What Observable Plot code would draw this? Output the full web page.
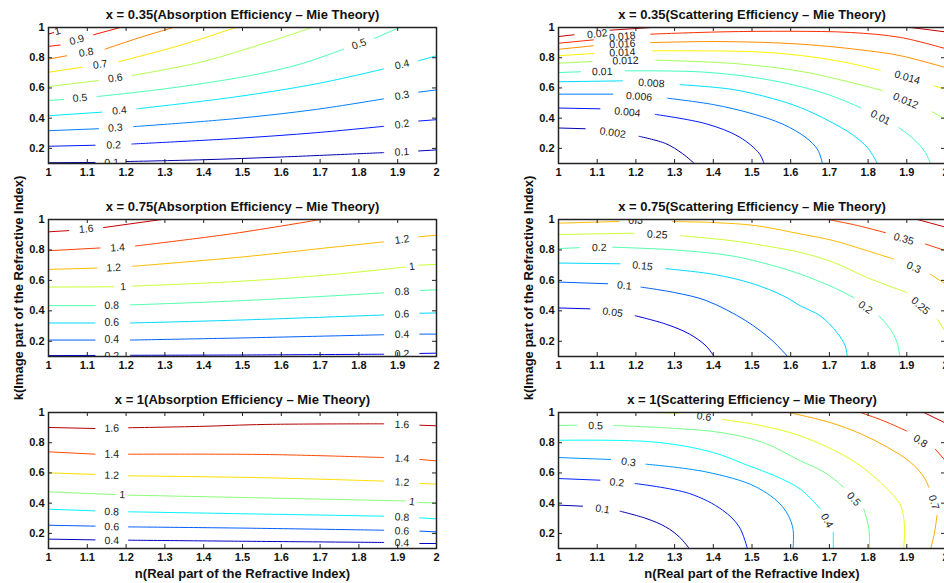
<!DOCTYPE html>
<html><head><meta charset="utf-8">
<script src="https://cdn.jsdelivr.net/npm/d3@7"></script>
<script src="https://cdn.jsdelivr.net/npm/@observablehq/plot@0.6"></script>
<style>
html,body{margin:0;padding:0;background:#fff;}
#fig{position:relative;width:944px;height:583px;overflow:hidden;background:#fff;}
#fig > div{position:absolute;}
</style></head><body><div id="fig"></div>
<script>
// ---- Data: contour segments [level, [[n,k],...]] and inline labels [level, n, k] ----
const xTicks = [1, 1.1, 1.2, 1.3, 1.4, 1.5, 1.6, 1.7, 1.8, 1.9, 2];
const yTicks = [0.2, 0.4, 0.6, 0.8, 1];

const absorption035 = [
 [0.1, [[1,0.105],[1.12,0.107]]],
 [0.1, [[1.2,0.113],[1.4,0.125],[1.6,0.143],[1.864,0.172]]],
 [0.1, [[1.954,0.183],[2,0.19]]],
 [0.2, [[1,0.214],[1.12,0.221]]],
 [0.2, [[1.215,0.229],[1.477,0.265],[1.69,0.304],[1.864,0.346]]],
 [0.2, [[1.954,0.381],[2,0.39]]],
 [0.3, [[1,0.317],[1.129,0.33]]],
 [0.3, [[1.219,0.344],[1.477,0.396],[1.69,0.458],[1.864,0.528]]],
 [0.3, [[1.954,0.572],[2,0.587]]],
 [0.4, [[1,0.416],[1.138,0.44]]],
 [0.4, [[1.228,0.462],[1.477,0.539],[1.69,0.627],[1.864,0.726]]],
 [0.4, [[1.954,0.78],[2,0.813]]],
 [0.5, [[1,0.517],[1.039,0.524]]],
 [0.5, [[1.125,0.543],[1.305,0.596],[1.52,0.682],[1.65,0.759],[1.761,0.857]]],
 [0.5, [[1.84,0.928],[1.905,1]]],
 [0.6, [[1,0.609],[1.129,0.649]]],
 [0.6, [[1.215,0.682],[1.391,0.77],[1.563,0.901],[1.679,1]]],
 [0.7, [[1,0.704],[1.086,0.737]]],
 [0.7, [[1.181,0.774],[1.305,0.857],[1.391,0.923],[1.482,1]]],
 [0.8, [[1,0.791],[1.047,0.813]]],
 [0.8, [[1.146,0.857],[1.236,0.934],[1.322,1]]],
 [0.9, [[1,0.875],[1.03,0.884]]],
 [0.9, [[1.116,0.952],[1.185,1]]],
 [1, [[1,0.957],[1.013,0.966]]]
];
const absorption035Labels = [
 [0.1,1.163,0.106],[0.1,1.911,0.176],[0.2,1.168,0.222],[0.2,1.911,0.36],
 [0.3,1.172,0.336],[0.3,1.911,0.55],[0.4,1.183,0.45],[0.4,1.911,0.755],
 [0.5,1.081,0.534],[0.5,1.8,0.89],[0.6,1.172,0.665],[0.7,1.133,0.755],
 [0.8,1.097,0.835],[0.9,1.073,0.918],[1,1.023,0.975]
];

const scattering035 = [
 [0.002, [[1,0.335],[1.069,0.33]]],
 [0.002, [[1.208,0.28],[1.277,0.232],[1.32,0.166],[1.351,0.1]]],
 [0.004, [[1,0.467],[1.107,0.462]]],
 [0.004, [[1.25,0.425],[1.381,0.363],[1.467,0.276],[1.519,0.166],[1.531,0.1]]],
 [0.006, [[1,0.559],[1.14,0.559]]],
 [0.006, [[1.282,0.532],[1.4,0.49],[1.5,0.43],[1.58,0.36],[1.64,0.27],[1.67,0.19],[1.682,0.1]]],
 [0.008, [[1,0.641],[1.165,0.647]]],
 [0.008, [[1.314,0.622],[1.45,0.59],[1.553,0.53],[1.625,0.47],[1.7,0.38],[1.76,0.29],[1.8,0.2],[1.824,0.1]]],
 [0.01, [[1,0.702],[1.057,0.707]]],
 [0.01, [[1.173,0.713],[1.381,0.704],[1.553,0.649],[1.691,0.561],[1.781,0.469]]],
 [0.01, [[1.879,0.338],[1.918,0.261],[1.948,0.173],[1.961,0.1]]],
 [0.012, [[1,0.764],[1.087,0.775]]],
 [0.012, [[1.251,0.784],[1.467,0.759],[1.639,0.704],[1.837,0.583]]],
 [0.012, [[1.966,0.442],[2,0.393]]],
 [0.014, [[1,0.813],[1.09,0.828]]],
 [0.014, [[1.242,0.846],[1.4,0.845],[1.51,0.839],[1.625,0.815],[1.74,0.77],[1.832,0.716]]],
 [0.014, [[1.97,0.614],[2,0.592]]],
 [0.016, [[1,0.856],[1.09,0.879]]],
 [0.016, [[1.238,0.9],[1.42,0.907],[1.625,0.89],[1.8,0.846],[1.884,0.813],[2,0.735]]],
 [0.018, [[1,0.896],[1.09,0.918]]],
 [0.018, [[1.238,0.956],[1.42,0.971],[1.6,0.975],[1.755,0.967],[1.884,0.934],[2,0.86]]],
 [0.02, [[1,0.94],[1.04,0.952]]],
 [0.02, [[1.133,0.982],[1.24,1]]],
 [0.02, [[1.91,1],[2,0.971]]]
];
const scattering035Labels = [
 [0.002,1.14,0.303],[0.004,1.178,0.44],[0.006,1.208,0.543],[0.008,1.24,0.631],
 [0.01,1.113,0.707],[0.01,1.832,0.404],[0.012,1.173,0.78],[0.012,1.897,0.515],
 [0.014,1.165,0.835],[0.014,1.901,0.669],[0.016,1.165,0.89],[0.018,1.165,0.94],
 [0.02,1.1,0.958]
];

const absorption075 = [
 [0.2, [[1,0.106],[1.12,0.107]]],
 [0.2, [[1.211,0.108],[1.5,0.11],[1.864,0.115]]],
 [0.2, [[1.957,0.12],[2,0.122]]],
 [0.4, [[1,0.208],[1.12,0.208]]],
 [0.4, [[1.211,0.208],[1.5,0.222],[1.864,0.243]]],
 [0.4, [[1.957,0.247],[2,0.247]]],
 [0.6, [[1,0.32],[1.12,0.32]]],
 [0.6, [[1.211,0.32],[1.5,0.34],[1.864,0.373]]],
 [0.6, [[1.957,0.384],[2,0.386]]],
 [0.8, [[1,0.434],[1.12,0.434]]],
 [0.8, [[1.211,0.439],[1.5,0.467],[1.864,0.518]]],
 [0.8, [[1.957,0.534],[2,0.538]]],
 [1, [[1,0.556],[1.168,0.558]]],
 [1, [[1.215,0.562],[1.5,0.595],[1.75,0.643],[1.92,0.688]]],
 [1, [[1.954,0.7],[2,0.705]]],
 [1.2, [[1,0.672],[1.125,0.681]]],
 [1.2, [[1.215,0.692],[1.5,0.754],[1.7,0.809],[1.864,0.853]]],
 [1.2, [[1.954,0.886],[2,0.897]]],
 [1.4, [[1,0.795],[1.133,0.813]]],
 [1.4, [[1.224,0.826],[1.477,0.908],[1.701,1]]],
 [1.6, [[1,0.919],[1.052,0.927]]],
 [1.6, [[1.142,0.947],[1.292,1]]]
];
const absorption075Labels = [
 [0.2,1.163,0.104],[0.2,1.911,0.117],[0.4,1.163,0.21],[0.4,1.911,0.245],
 [0.6,1.163,0.322],[0.6,1.911,0.378],[0.8,1.163,0.436],[0.8,1.911,0.526],
 [1,1.192,0.558],[1,1.937,0.692],[1.2,1.168,0.683],[1.2,1.911,0.868],
 [1.4,1.178,0.815],[1.6,1.097,0.938]
];

const scattering075 = [
 [0.05, [[1,0.419],[1.081,0.413]]],
 [0.05, [[1.198,0.368],[1.277,0.313],[1.338,0.248],[1.381,0.17],[1.402,0.1]]],
 [0.1, [[1,0.589],[1.127,0.578]]],
 [0.1, [[1.213,0.556],[1.3,0.52],[1.381,0.468],[1.484,0.335],[1.553,0.203],[1.592,0.1]]],
 [0.15, [[1,0.714],[1.159,0.709]]],
 [0.15, [[1.277,0.677],[1.4,0.64],[1.5,0.58],[1.58,0.5],[1.625,0.433],[1.677,0.366],[1.72,0.256],[1.741,0.169],[1.746,0.1]]],
 [0.2, [[1,0.809],[1.053,0.815]]],
 [0.2, [[1.14,0.818],[1.3,0.8],[1.45,0.76],[1.55,0.7],[1.625,0.641],[1.711,0.553],[1.763,0.487]]],
 [0.2, [[1.828,0.367],[1.858,0.278],[1.875,0.19],[1.882,0.1]]],
 [0.25, [[1,0.901],[1.195,0.91]]],
 [0.25, [[1.315,0.894],[1.45,0.86],[1.55,0.82],[1.625,0.784],[1.711,0.718],[1.797,0.619],[1.9,0.52]]],
 [0.25, [[1.979,0.344],[2,0.26]]],
 [0.3, [[1,0.976],[1.156,0.987]]],
 [0.3, [[1.294,0.987],[1.4,0.98],[1.509,0.96],[1.625,0.905],[1.711,0.861],[1.797,0.795],[1.866,0.74]]],
 [0.3, [[1.961,0.641],[2,0.575]]],
 [0.35, [[1.696,1],[1.77,0.962],[1.845,0.913]]],
 [0.35, [[1.948,0.839],[2,0.795]]],
 [0.4, [[1.927,1],[2,0.95]]]
];
const scattering075Labels = [
 [0.05,1.14,0.39],[0.1,1.17,0.565],[0.15,1.217,0.695],[0.2,1.105,0.815],
 [0.2,1.793,0.422],[0.25,1.255,0.9],[0.25,1.935,0.433],[0.3,1.199,0.99],
 [0.3,1.918,0.685],[0.35,1.892,0.872]
];

const absorption1 = [
 [0.4, [[1,0.162],[1.12,0.157]]],
 [0.4, [[1.206,0.155],[1.5,0.148],[1.864,0.14]]],
 [0.4, [[1.957,0.133],[2,0.133]]],
 [0.6, [[1,0.254],[1.12,0.248]]],
 [0.6, [[1.206,0.243],[1.5,0.235],[1.864,0.221]]],
 [0.6, [[1.957,0.215],[2,0.21]]],
 [0.8, [[1,0.36],[1.12,0.349]]],
 [0.8, [[1.206,0.343],[1.5,0.33],[1.864,0.314]]],
 [0.8, [[1.957,0.303],[2,0.296]]],
 [1, [[1,0.475],[1.172,0.457]]],
 [1, [[1.206,0.453],[1.55,0.435],[1.92,0.415]]],
 [1, [[1.954,0.404],[2,0.402]]],
 [1.2, [[1,0.601],[1.12,0.59]]],
 [1.2, [[1.206,0.581],[1.56,0.568],[1.864,0.546]]],
 [1.2, [[1.957,0.53],[2,0.526]]],
 [1.4, [[1,0.74],[1.12,0.724]]],
 [1.4, [[1.206,0.724],[1.56,0.722],[1.864,0.702]]],
 [1.4, [[1.957,0.689],[2,0.68]]],
 [1.6, [[1,0.901],[1.12,0.894]]],
 [1.6, [[1.206,0.899],[1.39,0.908],[1.56,0.921],[1.864,0.925]]],
 [1.6, [[1.957,0.916],[2,0.912]]]
];
const absorption1Labels = [
 [0.4,1.163,0.152],[0.4,1.911,0.137],[0.6,1.163,0.243],[0.6,1.911,0.216],
 [0.8,1.163,0.343],[0.8,1.911,0.307],[1,1.19,0.455],[1,1.937,0.41],
 [1.2,1.163,0.584],[1.2,1.911,0.538],[1.4,1.163,0.722],[1.4,1.911,0.696],
 [1.6,1.163,0.895],[1.6,1.911,0.92]
];

const scattering1 = [
 [0.1, [[1,0.387],[1.062,0.38]]],
 [0.1, [[1.159,0.347],[1.226,0.299],[1.277,0.243],[1.312,0.177],[1.338,0.1]]],
 [0.2, [[1,0.563],[1.107,0.552]]],
 [0.2, [[1.198,0.53],[1.338,0.464],[1.424,0.354],[1.467,0.243],[1.488,0.1]]],
 [0.3, [[1,0.702],[1.135,0.689]]],
 [0.3, [[1.226,0.658],[1.381,0.607],[1.51,0.508],[1.579,0.376],[1.605,0.243],[1.606,0.1]]],
 [0.4, [[1,0.816],[1.25,0.804],[1.4,0.735],[1.488,0.651],[1.56,0.58],[1.625,0.493],[1.677,0.361]]],
 [0.4, [[1.71,0.207],[1.71,0.1]]],
 [0.5, [[1,0.914],[1.048,0.916]]],
 [0.5, [[1.143,0.914],[1.3,0.895],[1.423,0.866],[1.53,0.8],[1.625,0.68],[1.69,0.6],[1.737,0.504]]],
 [0.5, [[1.789,0.361],[1.802,0.23],[1.804,0.1]]],
 [0.6, [[1.255,1],[1.31,0.995]]],
 [0.6, [[1.423,0.954],[1.52,0.915],[1.625,0.845],[1.755,0.69],[1.841,0.515],[1.884,0.383],[1.894,0.252],[1.892,0.1]]],
 [0.7, [[1.595,1],[1.7,0.935],[1.78,0.86],[1.85,0.77],[1.91,0.67],[1.945,0.57],[1.957,0.504]]],
 [0.7, [[1.978,0.32],[1.972,0.21],[1.962,0.1]]],
 [0.8, [[1.78,1],[1.84,0.945],[1.9,0.877]]],
 [0.8, [[1.974,0.756],[2,0.68]]],
 [0.9, [[1.944,1],[2,0.93]]]
];
const scattering1Labels = [
 [0.1,1.114,0.36],[0.2,1.151,0.537],[0.3,1.181,0.671],[0.4,1.694,0.284],
 [0.5,1.096,0.912],[0.5,1.763,0.427],[0.6,1.376,0.972],[0.7,1.97,0.405],
 [0.8,1.935,0.811]
];

const titles = [
 "x = 0.35(Absorption Efficiency \u2013 Mie Theory)",
 "x = 0.35(Scattering Efficiency \u2013 Mie Theory)",
 "x = 0.75(Absorption Efficiency \u2013 Mie Theory)",
 "x = 0.75(Scattering Efficiency \u2013 Mie Theory)",
 "x = 1(Absorption Efficiency \u2013 Mie Theory)",
 "x = 1(Scattering Efficiency \u2013 Mie Theory)"
];
const xLabel = "n(Real part of the Refractive Index)";
const yLabel = "k(Image part of the Refractive Index)";

// ---- Rendering ----
const FONT = "'Liberation Sans', Arial, Helvetica, sans-serif";
const jet = t => {
  const c = v => Math.max(0, Math.min(1, v));
  const r = c(1.5 - Math.abs(4 * t - 3)), g = c(1.5 - Math.abs(4 * t - 2)), b = c(1.5 - Math.abs(4 * t - 1));
  return `rgb(${Math.round(r * 255)},${Math.round(g * 255)},${Math.round(b * 255)})`;
};

const cols = [
  {left: 0, width: 472, ml: 48, mr: 36},
  {left: 472, width: 480, ml: 86, mr: 7}
];
const rows = [
  {top: 0, height: 190, mt: 27, mb: 27},
  {top: 190, height: 193, mt: 29, mb: 27},
  {top: 383, height: 200, mt: 29, mb: 35}
];

const panels = [
  {segs: absorption035, labels: absorption035Labels, col: 0, row: 0, zdomain: [0.05, 1.05]},
  {segs: scattering035, labels: scattering035Labels, col: 1, row: 0, zdomain: [0.001, 0.02145]},
  {segs: absorption075, labels: absorption075Labels, col: 0, row: 1, zdomain: [0.03, 1.72]},
  {segs: scattering075, labels: scattering075Labels, col: 1, row: 1, zdomain: [0.008, 0.43]},
  {segs: absorption1, labels: absorption1Labels, col: 0, row: 2, zdomain: [0.305, 1.669]},
  {segs: scattering1, labels: scattering1Labels, col: 1, row: 2, zdomain: [0.055, 0.964]}
];

function flatten(segs) {
  const out = [];
  segs.forEach(([level, pts], i) => pts.forEach(([n, k]) => out.push({level, seg: i, n, k})));
  return out;
}

function labelRows(segs, labels, fw, fh) {
  const sx = fw, sy = fh / 0.9;
  return labels.map(([level, n, k]) => {
    const ends = [];
    segs.forEach(([lv, pts], i) => {
      if (lv !== level) return;
      ends.push({i, p: pts[0], q: pts[1] || pts[0]});
      ends.push({i, p: pts[pts.length - 1], q: pts[pts.length - 2] || pts[0]});
    });
    const dist = p => Math.hypot((p[0] - n) * sx, (p[1] - k) * sy);
    ends.sort((a, b) => dist(a.p) - dist(b.p));
    const A = ends[0];
    const B = ends.find(e => e.i !== A.i && dist(e.p) < 70);
    const P = A.p, Q = B ? B.p : A.q;
    const dx = (Q[0] - P[0]) * sx, dy = -(Q[1] - P[1]) * sy;
    let ang = Math.atan2(dy, dx) * 180 / Math.PI;
    if (ang > 90) ang -= 180;
    if (ang < -90) ang += 180;
    return {level, n, k, text: String(level), angle: ang};
  });
}

const fig = document.getElementById("fig");
panels.forEach((p, idx) => {
  const c = cols[p.col], r = rows[p.row];
  const fw = c.width - c.ml - c.mr, fh = r.height - r.mt - r.mb;
  const marks = [
    Plot.line(flatten(p.segs), {x: "n", y: "k", z: "seg", stroke: "level", strokeWidth: 1, curve: "catmull-rom", clip: true}),
    Plot.text(labelRows(p.segs, p.labels, fw, fh), {x: "n", y: "k", text: "text", rotate: "angle", fontSize: 10.5, fontWeight: "normal", fill: "#222", clip: true}),
    Plot.tickX(xTicks, {x: d => d, insetTop: fh - 4, stroke: "#222"}),
    Plot.tickX(xTicks, {x: d => d, insetBottom: fh - 4, stroke: "#222"}),
    Plot.tickY(yTicks, {y: d => d, insetRight: fw - 4, stroke: "#222"}),
    Plot.tickY(yTicks, {y: d => d, insetLeft: fw - 4, stroke: "#222"}),
    Plot.frame({stroke: "#222", strokeWidth: 1.5}),
    Plot.axisX({ticks: xTicks, tickSize: 0, tickPadding: 5, tickFormat: d => String(d), label: null, fontSize: 11, fontWeight: "bold", fill: "#111"}),
    Plot.axisY({ticks: yTicks, tickSize: 0, tickPadding: 4, tickFormat: d => String(d), label: null, fontSize: 11, fontWeight: "bold", fill: "#111"}),
    Plot.text([titles[idx]], {text: d => d, frameAnchor: "top", lineAnchor: "middle", dy: -13, fontSize: 13, fontWeight: "bold", fill: "#111"})
  ];
  if (p.row === 1) marks.push(Plot.text([yLabel], {text: d => d, frameAnchor: "left", textAnchor: "middle", lineAnchor: "middle", dx: -30, rotate: -90, fontSize: 13, fontWeight: "bold", fill: "#111"}));
  if (p.row === 2) marks.push(Plot.text([xLabel], {text: d => d, frameAnchor: "bottom", lineAnchor: "middle", dy: 25, fontSize: 13, fontWeight: "bold", fill: "#111"}));

  const chart = Plot.plot({
    width: c.width, height: r.height,
    marginLeft: c.ml, marginRight: c.mr, marginTop: r.mt, marginBottom: r.mb,
    x: {domain: [1, 2]},
    y: {domain: [0.1, 1]},
    color: {type: "linear", domain: p.zdomain, interpolate: jet},
    style: {fontFamily: FONT, fontSize: "11px", fontWeight: "bold", background: "transparent", maxWidth: "none", overflow: "visible"},
    marks
  });
  const holder = document.createElement("div");
  holder.style.left = c.left + "px";
  holder.style.top = r.top + "px";
  holder.style.width = c.width + "px";
  holder.style.height = r.height + "px";
  holder.appendChild(chart);
  fig.appendChild(holder);
});
</script></body></html>
